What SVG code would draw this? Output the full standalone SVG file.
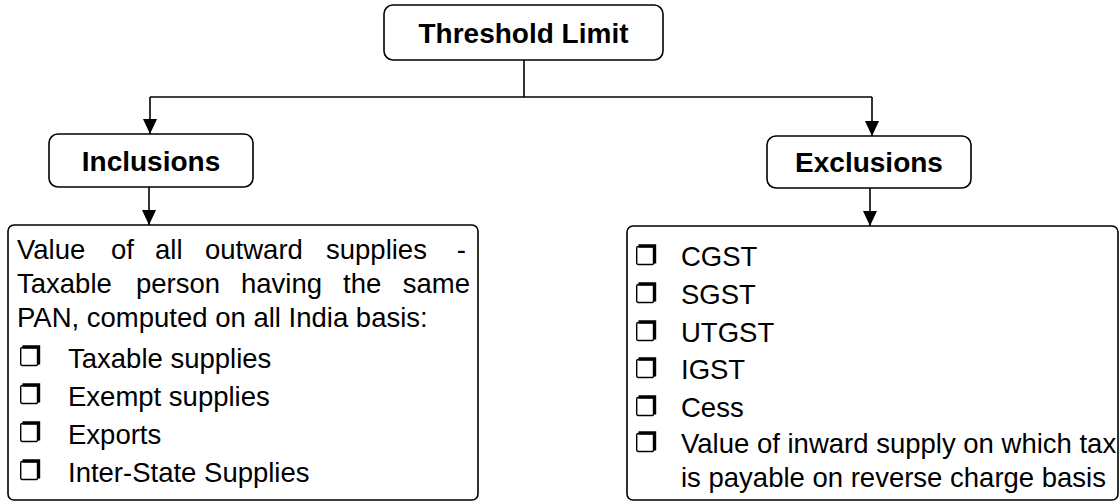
<svg xmlns="http://www.w3.org/2000/svg" width="1120" height="504" viewBox="0 0 1120 504">
<style>
.box{fill:#fff;stroke:#000;stroke-width:1.6}
.hd{font-family:"Liberation Sans",Arial,sans-serif;font-weight:bold;font-size:28px;fill:#000}
.tx{font-family:"Liberation Sans",Arial,sans-serif;font-size:27.5px;fill:#000}
.conn{fill:none;stroke:#000;stroke-width:1.6}
.bul{fill:#fff;stroke:#000;stroke-width:1.4}
.sh{fill:none;stroke:#000;stroke-width:3.4}
</style>
<defs>
<marker id="arr" markerUnits="userSpaceOnUse" markerWidth="16" markerHeight="16" viewBox="0 0 16 16" refX="15" refY="8" orient="auto">
<path d="M0,1 L15,8 L0,15 Z" fill="#000"/>
</marker>
<g id="b"><rect class="bul" x="0.7" y="-18.5" width="17" height="18" rx="1.5"/><path class="sh" d="M2.5,-19 H18.5 V-1.5"/></g>
</defs>
<g id="connectors">
<path class="conn" d="M524,60 V97"/>
<path class="conn" d="M150,97 H872"/>
<path class="conn" d="M150,97 V134" marker-end="url(#arr)"/>
<path class="conn" d="M872,97 V136" marker-end="url(#arr)"/>
<path class="conn" d="M149,187 V225" marker-end="url(#arr)"/>
<path class="conn" d="M870,188 V226" marker-end="url(#arr)"/>
</g>
<g id="threshold">
<rect class="box" x="384" y="5" width="279" height="55" rx="9"/>
<text class="hd" x="523.5" y="43" text-anchor="middle">Threshold Limit</text>
</g>
<g id="inclusions">
<rect class="box" x="49" y="134" width="204" height="53" rx="9"/>
<text class="hd" x="151" y="171" text-anchor="middle">Inclusions</text>
</g>
<g id="exclusions">
<rect class="box" x="767" y="136" width="204" height="52" rx="9"/>
<text class="hd" x="869" y="172" text-anchor="middle">Exclusions</text>
</g>
<g id="inclusions-list">
<rect class="box" x="8" y="225" width="470" height="275" rx="6"/>
<text class="tx" y="259"><tspan x="17">Value</tspan><tspan x="111">of</tspan><tspan x="155">all</tspan><tspan x="205">outward</tspan><tspan x="326">supplies</tspan><tspan x="466" text-anchor="end">-</tspan></text>
<text class="tx" y="293"><tspan x="17">Taxable</tspan><tspan x="136">person</tspan><tspan x="241">having</tspan><tspan x="343">the</tspan><tspan x="470" text-anchor="end">same</tspan></text>
<text class="tx" x="17" y="327">PAN, computed on all India basis:</text>
<use href="#b" x="20" y="366"/><text class="tx" x="68" y="368">Taxable supplies</text>
<use href="#b" x="20" y="404"/><text class="tx" x="68" y="406">Exempt supplies</text>
<use href="#b" x="20" y="442"/><text class="tx" x="68" y="444">Exports</text>
<use href="#b" x="20" y="480"/><text class="tx" x="68" y="482">Inter-State Supplies</text>
</g>
<g id="exclusions-list">
<rect class="box" x="627" y="226" width="491" height="274" rx="6"/>
<use href="#b" x="636" y="265"/><text class="tx" x="681" y="266">CGST</text>
<use href="#b" x="636" y="303"/><text class="tx" x="681" y="304">SGST</text>
<use href="#b" x="636" y="341"/><text class="tx" x="681" y="342">UTGST</text>
<use href="#b" x="636" y="378"/><text class="tx" x="681" y="379">IGST</text>
<use href="#b" x="636" y="416"/><text class="tx" x="681" y="417">Cess</text>
<use href="#b" x="636" y="452"/><text class="tx" x="681" y="453">Value of inward supply on which tax</text>
<text class="tx" x="681" y="487">is payable on reverse charge basis</text>
</g>
</svg>
